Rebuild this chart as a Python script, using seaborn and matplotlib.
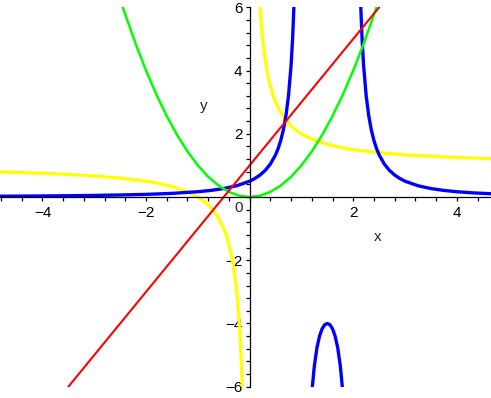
import matplotlib
matplotlib.use("Agg")
import matplotlib.pyplot as plt
from matplotlib.ticker import MultipleLocator, FixedLocator
import seaborn as sns
import pandas as pd

# ---- data ----
# red line
red_x = [-3.5, 2.5]
red_y = [-6.0, 6.0]

# green parabola
green_x = [-2.45, -2.2, -2.0, -1.8, -1.6, -1.4, -1.2, -1.0, -0.8, -0.6, -0.4, -0.2, 0.0,
           0.2, 0.4, 0.6, 0.8, 1.0, 1.2, 1.4, 1.6, 1.8, 2.0, 2.2, 2.45]
green_y = [6.0, 4.84, 4.0, 3.24, 2.56, 1.96, 1.44, 1.0, 0.64, 0.36, 0.16, 0.04, 0.0,
           0.04, 0.16, 0.36, 0.64, 1.0, 1.44, 1.96, 2.56, 3.24, 4.0, 4.84, 6.0]

# yellow hyperbola, left and right branches
yellow_left_x = [-4.82, -4.5, -4.0, -3.5, -3.0, -2.5, -2.0, -1.75, -1.5, -1.25, -1.0, -0.9,
                 -0.8, -0.7, -0.6, -0.5, -0.45, -0.4, -0.35, -0.3, -0.27, -0.25, -0.22,
                 -0.2, -0.18, -0.16, -0.143]
yellow_left_y = [0.793, 0.778, 0.75, 0.714, 0.667, 0.6, 0.5, 0.429, 0.333, 0.2, 0.0, -0.111,
                 -0.25, -0.429, -0.667, -1.0, -1.222, -1.5, -1.857, -2.333, -2.704, -3.0,
                 -3.545, -4.0, -4.556, -5.25, -6.0]
yellow_right_x = [0.2, 0.22, 0.25, 0.3, 0.35, 0.4, 0.45, 0.5, 0.6, 0.7, 0.8, 0.9, 1.0, 1.1,
                  1.25, 1.5, 1.75, 2.0, 2.5, 3.0, 3.5, 4.0, 4.66]
yellow_right_y = [6.0, 5.545, 5.0, 4.333, 3.857, 3.5, 3.222, 3.0, 2.667, 2.429, 2.25, 2.111,
                  2.0, 1.909, 1.8, 1.667, 1.571, 1.5, 1.4, 1.333, 1.286, 1.25, 1.215]

# blue curve, three pieces
blue_left_x = [-4.82, -4.0, -3.5, -3.0, -2.5, -2.0, -1.5, -1.0, -0.75, -0.5, -0.25, 0.0,
               0.1, 0.2, 0.3, 0.4, 0.5, 0.55, 0.6, 0.65, 0.7, 0.75, 0.8, 0.83, 0.854]
blue_left_y = [0.025, 0.033, 0.040, 0.05, 0.064, 0.083, 0.114, 0.167, 0.208, 0.267, 0.356,
               0.5, 0.585, 0.694, 0.840, 1.042, 1.333, 1.533, 1.786, 2.116, 2.564, 3.2,
               4.167, 5.028, 6.0]
blue_mid_x = [1.211, 1.25, 1.3, 1.35, 1.4, 1.45, 1.5, 1.55, 1.6, 1.65, 1.7, 1.75, 1.789]
blue_mid_y = [-6.0, -5.333, -4.762, -4.396, -4.167, -4.04, -4.0, -4.04, -4.167, -4.396,
              -4.762, -5.333, -6.0]
blue_right_x = [2.146, 2.17, 2.2, 2.25, 2.3, 2.35, 2.4, 2.45, 2.5, 2.6, 2.7, 2.8, 2.9, 3.0,
                3.25, 3.5, 3.75, 4.0, 4.3, 4.66]
blue_right_y = [6.0, 5.028, 4.167, 3.2, 2.564, 2.116, 1.786, 1.533, 1.333, 1.042, 0.840,
                0.694, 0.585, 0.5, 0.356, 0.267, 0.208, 0.167, 0.132, 0.103]

x_major = [-4, -2, 2, 4]
y_major = [-6, -4, -2, 2, 4, 6]

# ---- figure ----
sns.set_style("white")
plt.rcParams['font.family'] = ['Liberation Sans', 'DejaVu Sans']

fig = plt.figure(figsize=(4.91, 3.98), dpi=100)
ax = fig.add_axes([0.0, 11.3 / 398, 1.0, 379.4 / 398])

pieces = [
    (yellow_left_x, yellow_left_y, "#FFFF00", 2.3),
    (yellow_right_x, yellow_right_y, "#FFFF00", 2.3),
    (blue_left_x, blue_left_y, "#0000FF", 2.4),
    (blue_mid_x, blue_mid_y, "#0000FF", 2.4),
    (blue_right_x, blue_right_y, "#0000FF", 2.4),
    (green_x, green_y, "#00FF00", 1.8),
    (red_x, red_y, "#FF0000", 1.5),
]
for xs, ys, col, lw in pieces:
    df = pd.DataFrame({"x": xs, "y": ys})
    sns.lineplot(data=df, x="x", y="y", ax=ax, color=col, linewidth=lw,
                 sort=False, estimator=None)

ax.set_xlim(-4.82, 4.66)
ax.set_ylim(-6, 6)

for side in ["top", "right"]:
    ax.spines[side].set_visible(False)
ax.spines["left"].set_position(("data", 0))
ax.spines["bottom"].set_position(("data", 0))
for side in ["left", "bottom"]:
    ax.spines[side].set_color("black")
    ax.spines[side].set_linewidth(0.9)

ax.xaxis.set_major_locator(FixedLocator(x_major))
ax.yaxis.set_major_locator(FixedLocator(y_major))
ax.xaxis.set_minor_locator(MultipleLocator(0.4))
ax.yaxis.set_minor_locator(MultipleLocator(0.4))
ax.set_xticklabels([str(v).replace("-", "\u2212") for v in x_major])
ax.set_yticklabels([str(v).replace("-", "\u2212") for v in y_major])
ax.tick_params(which="both", direction="out", color="black", width=0.9,
               bottom=True, left=True, labelsize=11, labelcolor="black")
ax.tick_params(which="major", length=3.2)
ax.tick_params(which="minor", length=2.6)
ax.tick_params(axis="x", pad=3)
ax.tick_params(axis="y", pad=2)

ax.set_xlabel("")
ax.set_ylabel("")
ax.text(2.48, -1.28, "x", fontsize=11, ha="center", va="center")
ax.text(-0.88, 2.87, "y", fontsize=11, ha="center", va="center")
ax.text(-0.13, -0.12, "0", fontsize=11, ha="right", va="top")

fig.savefig("out.png", dpi=100)
